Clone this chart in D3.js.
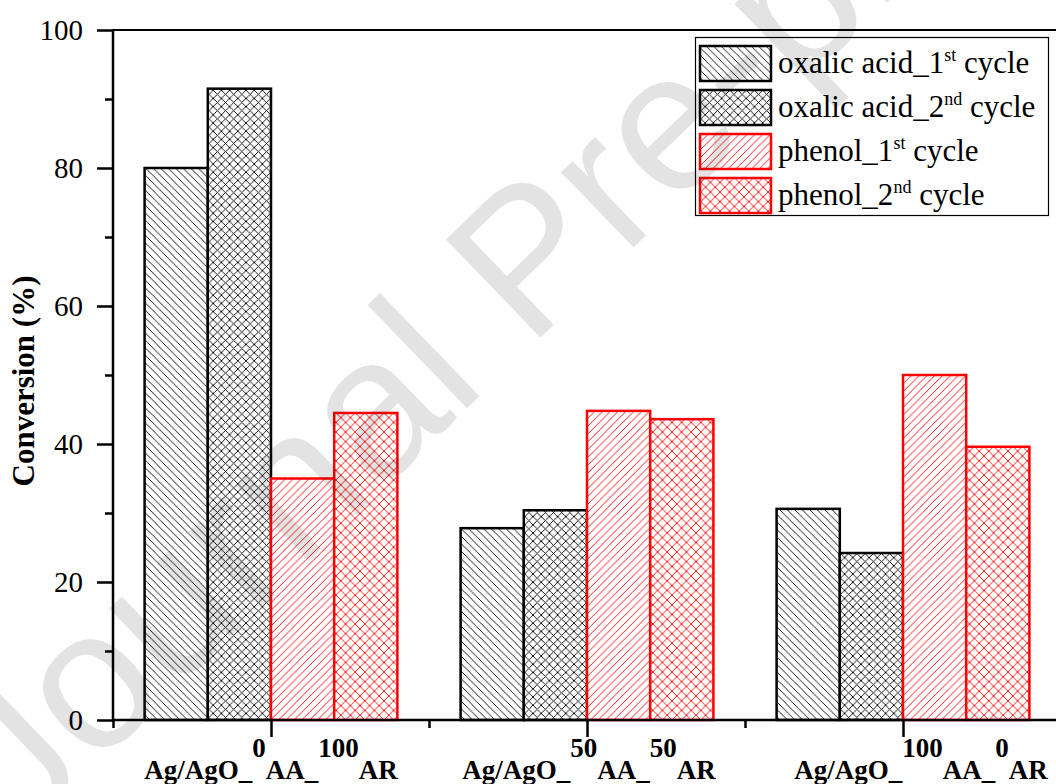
<!DOCTYPE html>
<html>
<head>
<meta charset="utf-8">
<script src="https://cdn.jsdelivr.net/npm/d3@7/dist/d3.min.js"></script>
<style>
  html, body { margin: 0; padding: 0; background: #fff; }
  svg { display: block; }
</style>
</head>
<body>
<svg id="chart" width="1056" height="784"></svg>
<script>
// ---- data ----
const groupPositions = [1, 2, 3];
const aaShares = ["0", "50", "100"];
const arShares = ["100", "50", "0"];

const oxalicFirst  = [80.0, 27.8, 30.6];
const oxalicSecond = [91.5, 30.4, 24.2];
const phenolFirst  = [35.0, 44.8, 50.0];
const phenolSecond = [44.5, 43.6, 39.6];

const legendBase = ["oxalic acid_1", "oxalic acid_2", "phenol_1", "phenol_2"];
const legendSup  = ["st", "nd", "st", "nd"];
const legendTail = [" cycle", " cycle", " cycle", " cycle"];

const yMajorTicks = [0, 20, 40, 60, 80, 100];
const yMinorTicks = [10, 30, 50, 70, 90];
const xMajorTicks = [1, 2, 3];
const xMinorTicks = [0.5, 1.5, 2.5, 3.5];

const yTitle = "Conversion (%)";
const watermark = "Journal Pre-proof";

// ---- layout ----
const svg = d3.select("#chart");
const plot = { left: 113, top: 30, bottom: 720, right: 1061 };
const serif = "Liberation Serif";

const x = d3.scaleLinear().domain([0.5, 3.5]).range([plot.left, plot.right]);
const y = d3.scaleLinear().domain([0, 100]).range([plot.bottom, plot.top]);
const barSpan = 0.2;

const series = [
  { values: oxalicFirst,  color: "#000", pattern: "hatch-back-k" },
  { values: oxalicSecond, color: "#000", pattern: "hatch-cross-k" },
  { values: phenolFirst,  color: "#f00", pattern: "hatch-fwd-r" },
  { values: phenolSecond, color: "#f00", pattern: "hatch-cross-r" }
];

// ---- hatch patterns ----
const defs = svg.append("defs");
function addPattern(id, size, color, kinds, width) {
  const p = defs.append("pattern")
    .attr("id", id).attr("patternUnits", "userSpaceOnUse")
    .attr("width", size).attr("height", size);
  p.append("rect").attr("width", size).attr("height", size).attr("fill", "#fff");
  const s = size;
  let d = "";
  if (kinds.includes("back")) d += `M-1,-1L${s + 1},${s + 1}M-1,${s - 1}L1,${s + 1}M${s - 1},-1L${s + 1},1`;
  if (kinds.includes("fwd"))  d += `M-1,${s + 1}L${s + 1},-1M-1,1L1,-1M${s - 1},${s + 1}L${s + 1},${s - 1}`;
  p.append("path").attr("d", d).attr("stroke", color).attr("stroke-width", width).attr("fill", "none");
}
addPattern("hatch-back-k", 7.5, "#000", ["back"], 0.9);
addPattern("hatch-cross-k", 8.2, "#000", ["back", "fwd"], 0.9);
addPattern("hatch-fwd-r", 7.8, "#f00", ["fwd"], 0.9);
addPattern("hatch-cross-r", 9.6, "#f00", ["back", "fwd"], 0.9);

// ---- bars ----
const barLayer = svg.append("g");
series.forEach((s, i) => {
  barLayer.append("g").selectAll("rect")
    .data(s.values.map((v, gi) => ({ v, g: groupPositions[gi] })))
    .join("rect")
    .attr("x", d => x(d.g + (i - 2) * barSpan))
    .attr("width", x(barSpan) - x(0))
    .attr("y", d => y(d.v))
    .attr("height", d => y(0) - y(d.v))
    .attr("fill", `url(#${s.pattern})`)
    .attr("stroke", s.color)
    .attr("stroke-width", 2.5);
});

// ---- axes ----
const yAxis = svg.append("g").attr("transform", `translate(${plot.left},0)`)
  .call(d3.axisLeft(y).tickValues(yMajorTicks).tickSize(16).tickPadding(14).tickFormat(d3.format("d")));
const yMinor = svg.append("g").attr("transform", `translate(${plot.left},0)`)
  .call(d3.axisLeft(y).tickValues(yMinorTicks).tickSize(8).tickFormat(""));
const xAxis = svg.append("g").attr("transform", `translate(0,${plot.bottom})`)
  .call(d3.axisBottom(x).tickValues(xMajorTicks).tickSize(17).tickFormat(""));
const xMinor = svg.append("g").attr("transform", `translate(0,${plot.bottom})`)
  .call(d3.axisBottom(x).tickValues(xMinorTicks).tickSize(8).tickFormat(""));

[yAxis, yMinor, xAxis, xMinor].forEach(a => {
  a.attr("font-family", serif);
  a.select(".domain").remove();
  a.selectAll(".tick line").attr("stroke", "#000").attr("stroke-width", 2.5);
});
yAxis.attr("font-size", 29);
yAxis.selectAll(".tick text")
  .style("font-family", serif).style("font-size", "29px").attr("fill", "#000");

// frame lines
const frame = svg.append("g").attr("stroke", "#000").attr("fill", "none");
frame.append("line").attr("x1", plot.left).attr("x2", plot.left)
  .attr("y1", plot.bottom + 1).attr("y2", plot.top - 1).attr("stroke-width", 2.5);
frame.append("line").attr("x1", plot.left - 1).attr("x2", plot.right)
  .attr("y1", plot.bottom).attr("y2", plot.bottom).attr("stroke-width", 2.5);
frame.append("line").attr("x1", plot.left).attr("x2", plot.right)
  .attr("y1", plot.top).attr("y2", plot.top).attr("stroke-width", 2);
frame.append("line").attr("x1", plot.right).attr("x2", plot.right)
  .attr("y1", plot.top).attr("y2", plot.bottom).attr("stroke-width", 2);

// ---- axis titles ----
svg.append("text")
  .attr("transform", "translate(34,381) rotate(-90)")
  .attr("text-anchor", "middle")
  .style("font-family", serif).attr("font-weight", "bold").style("font-size", "31px")
  .text(yTitle);

// category labels: Ag/AgO_ with raised AA / AR shares
const labelNudge = [0, 2, 18];
const catLabels = svg.append("g")
  .style("font-family", serif).attr("font-weight", "bold").style("font-size", "27px")
  .attr("fill", "#000");
groupPositions.forEach((g, gi) => {
  const t = catLabels.append("text")
    .attr("x", x(g) + labelNudge[gi]).attr("y", 779)
    .attr("text-anchor", "middle");
  t.append("tspan").text("Ag/AgO_");
  t.append("tspan").attr("dy", -22).text(aaShares[gi]);
  t.append("tspan").attr("dy", 22).text("AA_");
  t.append("tspan").attr("dy", -22).text(arShares[gi]);
  t.append("tspan").attr("dy", 22).text("AR");
});

// ---- legend ----
const legend = svg.append("g");
legend.append("rect")
  .attr("x", 695.5).attr("y", 37.5).attr("width", 353).attr("height", 178)
  .attr("fill", "#fff").attr("stroke", "#000").attr("stroke-width", 1.2);
series.forEach((s, i) => {
  const rowY = 46 + i * 44;
  legend.append("rect")
    .attr("x", 700).attr("y", rowY).attr("width", 71).attr("height", 35)
    .attr("fill", `url(#${s.pattern})`).attr("stroke", s.color).attr("stroke-width", 2.5);
  const t = legend.append("text")
    .attr("x", 778).attr("y", rowY + 27)
    .style("font-family", serif).style("font-size", "31px").attr("fill", "#000");
  t.append("tspan").text(legendBase[i]);
  t.append("tspan").attr("dy", -12).style("font-size", "18px").text(legendSup[i]);
  t.append("tspan").attr("dy", 12).text(legendTail[i]);
});

// ---- watermark ----
svg.append("text")
  .attr("transform", "translate(22,838) rotate(-44)")
  .style("font-family", "Liberation Sans")
  .style("font-size", "198px")
  .attr("fill", "#000").attr("fill-opacity", 0.11)
  .text(watermark);
</script>
</body>
</html>
